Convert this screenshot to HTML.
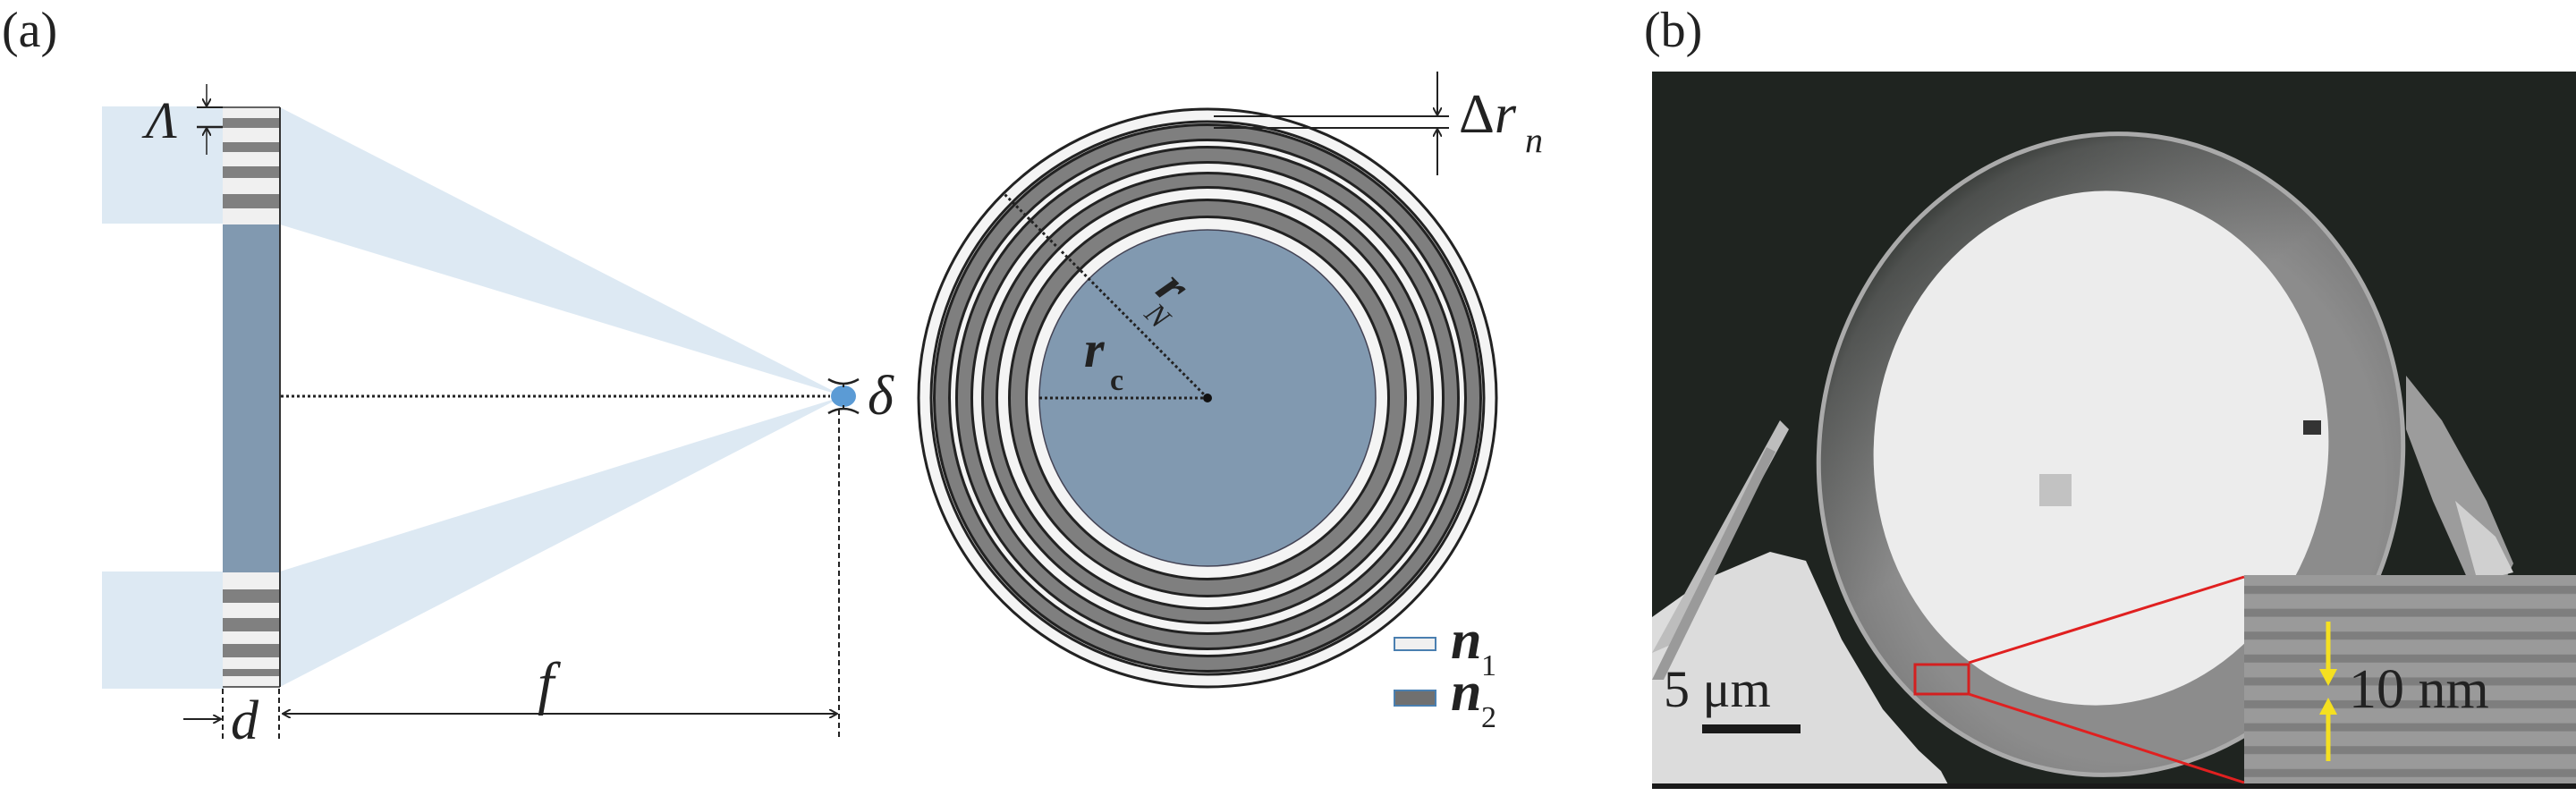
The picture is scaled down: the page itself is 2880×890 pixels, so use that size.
<!DOCTYPE html>
<html><head><meta charset="utf-8">
<style>
html,body{margin:0;padding:0;background:#fff;}
svg{display:block;}
text{font-family:"Liberation Serif",serif;fill:#222;}
</style></head>
<body>
<svg width="2880" height="890" viewBox="0 0 2880 890" xmlns="http://www.w3.org/2000/svg">
<defs>
<marker id="ah" markerWidth="10" markerHeight="10" refX="9" refY="5" orient="auto" markerUnits="userSpaceOnUse">
<path d="M0,0 L9,5 L0,10" fill="none" stroke="#222" stroke-width="2"/>
</marker>
<pattern id="stripes" x="0" y="647" width="10" height="25.6" patternUnits="userSpaceOnUse">
<rect width="10" height="25.6" fill="#9a9a9a"/>
<rect y="8" width="10" height="9" fill="#7e7e7e"/>
</pattern>
<radialGradient id="ringg" cx="0.55" cy="0.55" r="0.6">
<stop offset="0.7" stop-color="#8c8c8c"/>
<stop offset="0.9" stop-color="#7a7a7a"/>
<stop offset="1" stop-color="#3a3d3a"/>
</radialGradient>
<linearGradient id="shade" x1="0" y1="0" x2="1" y2="1">
<stop offset="0" stop-color="#1f2420" stop-opacity="0.8"/>
<stop offset="0.45" stop-color="#1f2420" stop-opacity="0"/>
</linearGradient>
</defs>

<text x="2" y="52" font-size="56">(a)</text>

<rect x="114" y="119" width="136" height="131" fill="#dde9f3"/>
<rect x="114" y="639" width="136" height="131" fill="#dde9f3"/>
<polygon points="313,120 313,251 943,443" fill="#dde9f3"/>
<polygon points="313,639 313,768 943,443" fill="#dde9f3"/>

<rect x="249" y="120" width="64" height="131" fill="#f0f0f0"/>
<rect x="249" y="132" width="64" height="11" fill="#808080"/>
<rect x="249" y="159" width="64" height="11" fill="#808080"/>
<rect x="249" y="186" width="64" height="13" fill="#808080"/>
<rect x="249" y="217" width="64" height="16" fill="#808080"/>
<rect x="249" y="251" width="64" height="389" fill="#8199b0"/>
<rect x="249" y="640" width="64" height="128" fill="#f0f0f0"/>
<rect x="249" y="659" width="64" height="15" fill="#808080"/>
<rect x="249" y="691" width="64" height="15" fill="#808080"/>
<rect x="249" y="720" width="64" height="15" fill="#808080"/>
<rect x="249" y="748" width="64" height="8" fill="#808080"/>
<line x1="249" y1="120" x2="313" y2="120" stroke="#333" stroke-width="1.5"/>
<line x1="313" y1="120" x2="313" y2="768" stroke="#333" stroke-width="2"/>
<line x1="249" y1="768" x2="313" y2="768" stroke="#333" stroke-width="1.5"/>

<text x="163" y="154" font-size="58" font-style="italic">Λ</text>
<line x1="220" y1="120" x2="249" y2="120" stroke="#222" stroke-width="2"/>
<line x1="220" y1="142" x2="249" y2="142" stroke="#222" stroke-width="2.5"/>
<line x1="231" y1="94" x2="231" y2="119" stroke="#222" stroke-width="1.5" marker-end="url(#ah)"/>
<line x1="231" y1="173" x2="231" y2="143" stroke="#222" stroke-width="1.5" marker-end="url(#ah)"/>

<line x1="314" y1="443" x2="928" y2="443" stroke="#222" stroke-width="3" stroke-dasharray="3,3"/>
<ellipse cx="943" cy="443" rx="14" ry="12" fill="#5b9bd5"/>
<path d="M926,424 Q943,434 960,424" fill="none" stroke="#222" stroke-width="2.5"/>
<line x1="943" y1="429" x2="943" y2="433" stroke="#222" stroke-width="2"/>
<path d="M926,462 Q943,452 960,462" fill="none" stroke="#222" stroke-width="2.5"/>
<line x1="943" y1="453" x2="943" y2="458" stroke="#222" stroke-width="2"/>
<text x="970" y="463" font-size="62" font-style="italic">δ</text>

<line x1="938" y1="458" x2="938" y2="825" stroke="#222" stroke-width="2" stroke-dasharray="6,4"/>
<line x1="249" y1="770" x2="249" y2="830" stroke="#222" stroke-width="2" stroke-dasharray="6,4"/>
<line x1="312" y1="770" x2="312" y2="830" stroke="#222" stroke-width="2" stroke-dasharray="6,4"/>
<line x1="318" y1="798" x2="936" y2="798" stroke="#222" stroke-width="2" marker-end="url(#ah)"/>
<line x1="936" y1="798" x2="316" y2="798" stroke="#222" stroke-width="2" marker-end="url(#ah)"/>
<text x="601" y="786" font-size="66" font-style="italic">f</text>
<line x1="205" y1="804" x2="247" y2="804" stroke="#222" stroke-width="2" marker-end="url(#ah)"/>
<text x="258" y="826" font-size="62" font-style="italic">d</text>

<circle cx="1350" cy="445" r="323" fill="#f4f4f4" stroke="#222" stroke-width="3"/>
<g fill="none" stroke="#222" stroke-width="3">
<circle cx="1350" cy="445" r="309"/>
</g>
<g fill="none" stroke="#7f7f7f">
<circle cx="1350" cy="445" r="297" stroke-width="16"/>
<circle cx="1350" cy="445" r="272" stroke-width="16"/>
<circle cx="1350" cy="445" r="243.5" stroke-width="15"/>
<circle cx="1350" cy="445" r="212" stroke-width="18"/>
</g>
<g fill="none" stroke="#222" stroke-width="3">
<circle cx="1350" cy="445" r="305.5"/><circle cx="1350" cy="445" r="288.5"/>
<circle cx="1350" cy="445" r="280.5"/><circle cx="1350" cy="445" r="263.5"/>
<circle cx="1350" cy="445" r="251.5"/><circle cx="1350" cy="445" r="235.5"/>
<circle cx="1350" cy="445" r="221.5"/><circle cx="1350" cy="445" r="202.5"/>
</g>
<circle cx="1350" cy="445" r="188" fill="#8199b0" stroke="#445" stroke-width="1.5"/>
<line x1="1162" y1="445" x2="1346" y2="445" stroke="#222" stroke-width="3" stroke-dasharray="3,3"/>
<line x1="1350" y1="445" x2="1122" y2="216" stroke="#222" stroke-width="3" stroke-dasharray="3,3"/>
<circle cx="1350" cy="445" r="5" fill="#111"/>
<text x="1212" y="410" font-size="58" font-style="italic" font-weight="bold">r</text>
<text x="1241" y="436" font-size="34" font-weight="bold">c</text>
<g transform="translate(1310,335) rotate(45)">
<text x="-20" y="8" font-size="58" font-style="italic" font-weight="bold">r</text>
<text x="-10" y="35" font-size="34" font-style="italic">N</text>
</g>

<line x1="1357" y1="130" x2="1620" y2="130" stroke="#222" stroke-width="2"/>
<line x1="1357" y1="143" x2="1620" y2="143" stroke="#222" stroke-width="2"/>
<line x1="1607" y1="80" x2="1607" y2="129" stroke="#222" stroke-width="2" marker-end="url(#ah)"/>
<line x1="1607" y1="196" x2="1607" y2="144" stroke="#222" stroke-width="2" marker-end="url(#ah)"/>
<text x="1631" y="148" font-size="62">Δ<tspan font-style="italic">r</tspan></text>
<text x="1705" y="170" font-size="40" font-style="italic">n</text>

<rect x="1559" y="713" width="46" height="14" fill="#f0f0f0" stroke="#4a7fb0" stroke-width="2"/>
<rect x="1559" y="772" width="46" height="17" fill="#707070" stroke="#4a7fb0" stroke-width="2"/>
<text x="1622" y="736" font-size="62" font-style="italic" font-weight="bold">n</text>
<text x="1656" y="755" font-size="34">1</text>
<text x="1622" y="794" font-size="62" font-style="italic" font-weight="bold">n</text>
<text x="1656" y="813" font-size="34">2</text>

<text x="1838" y="52" font-size="56">(b)</text>
<rect x="1847" y="80" width="1033" height="801" fill="#1f2420"/>
<polygon points="1847,690 1906,648 1979,617 2019,627 2059,715 2105,793 2145,839 2170,862 2180,881 1847,881" fill="#dcdcdc"/>
<polygon points="1847,730 1990,470 2000,480 1870,720" fill="#bdbdbd"/>
<polygon points="1847,760 1975,500 1985,505 1860,760" fill="#9a9a9a"/>
<polygon points="2690,420 2730,470 2780,560 2810,630 2800,650 2760,650 2720,560 2690,480" fill="#9c9c9c"/>
<polygon points="2745,560 2790,600 2810,640 2770,650" fill="#d0d0d0"/>
<ellipse cx="2360" cy="508" rx="328" ry="361" transform="rotate(8 2360 508)" fill="url(#ringg)"/>
<ellipse cx="2360" cy="508" rx="328" ry="361" transform="rotate(8 2360 508)" fill="url(#shade)"/>
<ellipse cx="2360" cy="508" rx="326" ry="359" transform="rotate(8 2360 508)" fill="none" stroke="#aaaaaa" stroke-width="5"/>
<ellipse cx="2349" cy="501" rx="254" ry="288" transform="rotate(6 2349 501)" fill="#ececec"/>
<rect x="2280" y="530" width="36" height="36" fill="#c2c2c2"/>
<rect x="2575" y="470" width="20" height="16" fill="#333"/>
<rect x="2509" y="643" width="371" height="234" fill="url(#stripes)"/>
<rect x="1847" y="876" width="1033" height="6" fill="#1a1a1a"/>
<rect x="2141" y="743" width="60" height="33" fill="none" stroke="#d32020" stroke-width="3"/>
<line x1="2201" y1="741" x2="2509" y2="645" stroke="#e02020" stroke-width="3"/>
<line x1="2201" y1="776" x2="2509" y2="875" stroke="#e02020" stroke-width="3"/>
<text x="1860" y="790" font-size="58">5 μm</text>
<rect x="1903" y="810" width="110" height="10" fill="#1a1a1a"/>
<line x1="2603" y1="695" x2="2603" y2="750" stroke="#f5e020" stroke-width="5"/>
<polygon points="2593,748 2613,748 2603,767" fill="#f5e020"/>
<line x1="2603" y1="797" x2="2603" y2="851" stroke="#f5e020" stroke-width="5"/>
<polygon points="2593,799 2613,799 2603,780" fill="#f5e020"/>
<text x="2626" y="791" font-size="62">10 nm</text>
</svg>
</body></html>
